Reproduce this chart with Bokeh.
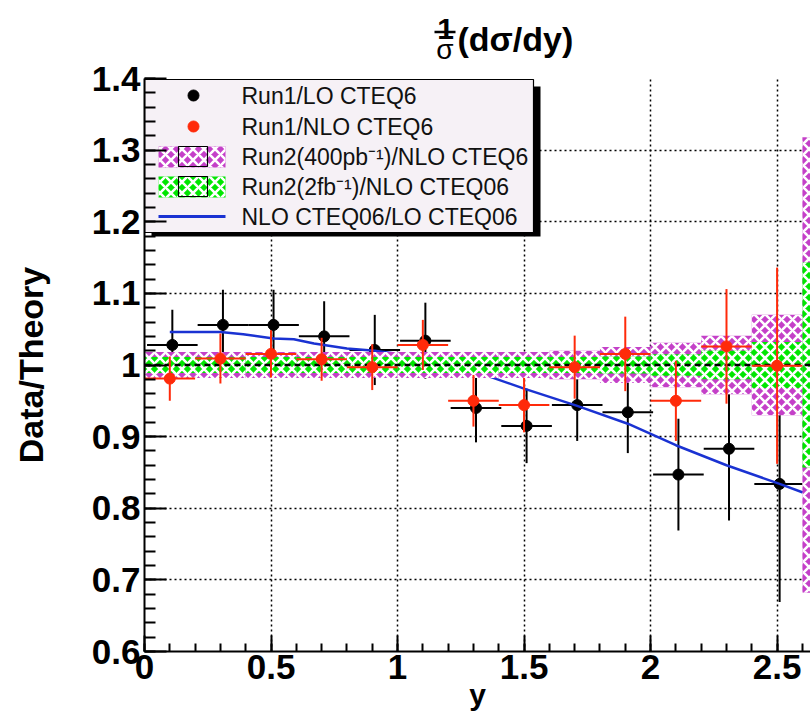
import numpy as np
from bokeh.plotting import figure
from bokeh.layouts import column
from bokeh.models import FixedTicker, Range1d
from bokeh.core.properties import value
from bokeh.embed import file_html
from bokeh.resources import INLINE

# ---------------- data ----------------
# Run1 / LO CTEQ6 (black)
lo_x = [0.11, 0.31, 0.51, 0.71, 0.91, 1.11, 1.31, 1.51, 1.71, 1.91, 2.11, 2.31, 2.51]
lo_y = [1.028, 1.056, 1.056, 1.040, 1.021, 1.034, 0.940, 0.915, 0.944, 0.934, 0.847, 0.883, 0.834]
lo_err = [0.049, 0.049, 0.049, 0.049, 0.049, 0.053, 0.048, 0.052, 0.050, 0.057, 0.078, 0.100, 0.165]
lo_xerr = [0.1] * 13

# Run1 / NLO CTEQ6 (red)
nlo_x = [0.1, 0.3, 0.5, 0.7, 0.9, 1.1, 1.3, 1.5, 1.7, 1.9, 2.1, 2.3, 2.5]
nlo_y = [0.981, 1.009, 1.0155, 1.008, 0.997, 1.028, 0.950, 0.944, 0.997, 1.0155, 0.950, 1.026, 0.999]
nlo_err = [0.031, 0.035, 0.033, 0.030, 0.032, 0.035, 0.036, 0.038, 0.044, 0.052, 0.056, 0.080, 0.137]
nlo_xerr = [0.1] * 13

# Run2 projected uncertainty bands (bin edges of 0.2)
band_left = [0.0, 0.2, 0.4, 0.6, 0.8, 1.0, 1.2, 1.4, 1.6, 1.8, 2.0, 2.2, 2.4, 2.6]
band_right = [0.2, 0.4, 0.6, 0.8, 1.0, 1.2, 1.4, 1.6, 1.8, 2.0, 2.2, 2.4, 2.6, 2.8]
band_center = [1.0] * 14
run2_400pb_err = [0.018, 0.018, 0.018, 0.018, 0.018, 0.018, 0.018, 0.018, 0.020, 0.025, 0.031, 0.041, 0.070, 0.318]
run2_2fb_err = [0.011, 0.011, 0.011, 0.011, 0.011, 0.011, 0.011, 0.011, 0.011, 0.012, 0.015, 0.020, 0.032, 0.143]

# NLO CTEQ06 / LO CTEQ06 ratio (blue)
ratio_x = [0.1, 0.3, 0.39, 0.51, 0.59, 0.67, 0.80, 0.91, 1.01, 1.10, 1.25, 1.33, 1.50, 1.71, 1.91, 2.10, 2.30, 2.51, 2.61]
ratio_y = [1.046, 1.046, 1.043, 1.037, 1.036, 1.030, 1.023, 1.020, 1.015, 1.006, 0.995, 0.988, 0.967, 0.943, 0.918, 0.888, 0.860, 0.834, 0.821]

reference_level = 1.0

x_ticks = [0.0, 0.5, 1.0, 1.5, 2.0, 2.5]
x_tick_labels = ["0", "0.5", "1", "1.5", "2", "2.5"]
y_ticks = [0.6, 0.7, 0.8, 0.9, 1.0, 1.1, 1.2, 1.3, 1.4]
y_tick_labels = ["0.6", "0.7", "0.8", "0.9", "1", "1.1", "1.2", "1.3", "1.4"]

legend_labels = ["Run1/LO CTEQ6", "Run1/NLO CTEQ6", "Run2(400pb\u207b\u00b9)/NLO CTEQ6",
                 "Run2(2fb\u207b\u00b9)/NLO CTEQ06", "NLO CTEQ06/LO CTEQ06"]

title_num = "1"
title_den = "\u03c3"
title_rest = "(d\u03c3/dy)"
x_title = "y"
y_title = "Data/Theory"

# ---------------- styling / layout ----------------
FONT = "Liberation Sans"
BLACK = "#000000"
RED = "#ff2a0a"
BLUE = "#1a32d2"
MAGENTA = "#c440c8"
GREEN = "#00e600"
HATCH = dict(hatch_pattern="diagonal_cross", hatch_color="white", hatch_scale=11, hatch_weight=2.6)

PAGE_W = 810
TITLE_H = 66
MAIN_H = 724 - TITLE_H
ML, MR, MT, MB = 144, 0, 12, 73
FRAME_W = PAGE_W - ML - MR
FRAME_H = MAIN_H - MT - MB
X0, X1 = 0.0, 2.632
Y0, Y1 = 0.6, 1.4
FRAME_LEFT = ML               # page px
FRAME_TOP = TITLE_H + MT      # page px
TITLE_SHIFT = -10             # compensates the strip's own vertical offset


def dx(px):
    return X0 + (px - FRAME_LEFT) / FRAME_W * (X1 - X0)


def dy(py):
    return Y1 - (py - FRAME_TOP) / FRAME_H * (Y1 - Y0)


def ty(py):
    return py + TITLE_SHIFT


# ---------------- title strip (data units = page pixels) ----------------
t = figure(title=None, width=PAGE_W, height=TITLE_H, x_range=Range1d(ML, PAGE_W),
           y_range=Range1d(TITLE_H, 0),
           min_border_left=ML, min_border_right=0, min_border_top=0, min_border_bottom=0,
           toolbar_location=None, output_backend="svg", x_axis_location=None, y_axis_location=None)
t.outline_line_color = None
t.xgrid.visible = False
t.ygrid.visible = False
t.text(x=[445], y=[ty(38)], text=[title_num], text_font=value(FONT), text_font_style="bold",
       text_font_size="30px", text_align="center", text_baseline="alphabetic", text_color=BLACK)
t.segment(x0=[434], x1=[455], y0=[ty(41.5)], y1=[ty(41.5)], line_color=BLACK, line_width=2.5)
t.text(x=[444.5], y=[ty(59)], text=[title_den], text_font=value(FONT),
       text_font_size="28px", text_align="center", text_baseline="alphabetic", text_color=BLACK)
t.text(x=[457], y=[ty(48)], text=[title_rest], text_font=value(FONT), text_font_style="bold",
       text_font_size="34px", text_align="left", text_baseline="alphabetic", text_color=BLACK)

# ---------------- main plot ----------------
p = figure(title=None, width=PAGE_W, height=MAIN_H, x_range=Range1d(X0, X1), y_range=Range1d(Y0, Y1),
           min_border_left=ML, min_border_right=MR, min_border_top=MT, min_border_bottom=MB,
           toolbar_location=None, output_backend="svg")
p.outline_line_color = None

x_minor = [round(v, 2) for v in np.arange(0.0, 2.65, 0.1)]
y_minor = [round(v, 2) for v in np.arange(0.6, 1.401, 0.02)]
p.xaxis.ticker = FixedTicker(ticks=x_ticks, minor_ticks=x_minor)
p.yaxis.ticker = FixedTicker(ticks=y_ticks, minor_ticks=y_minor)
p.xaxis.major_label_overrides = dict(zip(x_ticks, x_tick_labels))
p.yaxis.major_label_overrides = dict(zip(y_ticks, y_tick_labels))
for ax in (p.xaxis, p.yaxis):
    ax.axis_line_width = 2
    ax.axis_line_color = BLACK
    ax.major_tick_line_width = 2
    ax.minor_tick_line_width = 2
    ax.major_tick_line_color = BLACK
    ax.minor_tick_line_color = BLACK
    ax.major_tick_out = 0
    ax.minor_tick_out = 0
    ax.major_label_text_font = FONT
    ax.major_label_text_font_style = "bold"
    ax.major_label_text_font_size = "35px"
    ax.major_label_text_color = BLACK
    ax.axis_label_text_font = FONT
    ax.axis_label_text_font_style = "bold"
    ax.axis_label_text_color = BLACK
p.xaxis.major_tick_in = 16
p.xaxis.minor_tick_in = 8
p.yaxis.major_tick_in = 22
p.yaxis.minor_tick_in = 11
p.xaxis.major_label_standoff = 3
p.yaxis.major_label_standoff = 4
p.xaxis.axis_label = x_title
p.xaxis.axis_label_text_font_size = "30px"
p.xaxis.axis_label_standoff = -4
p.yaxis.axis_label = y_title
p.yaxis.axis_label_text_font_size = "34px"
p.yaxis.axis_label_standoff = 39

p.xgrid.ticker = FixedTicker(ticks=[v for v in x_ticks if v > 0])
p.ygrid.ticker = FixedTicker(ticks=[v for v in y_ticks if Y0 < v < Y1])
for g in (p.xgrid, p.ygrid):
    g.grid_line_color = BLACK
    g.grid_line_width = 1.5
    g.grid_line_dash = "2 3"

# black points: Run1/LO
p.segment(x0=lo_x, x1=lo_x, y0=[y - e for y, e in zip(lo_y, lo_err)],
          y1=[y + e for y, e in zip(lo_y, lo_err)], line_color=BLACK, line_width=2)
p.segment(x0=[x - e for x, e in zip(lo_x, lo_xerr)], x1=[x + e for x, e in zip(lo_x, lo_xerr)],
          y0=lo_y, y1=lo_y, line_color=BLACK, line_width=2)
p.scatter(lo_x, lo_y, size=11, color=BLACK)

# blue ratio
p.line(ratio_x, ratio_y, line_color=BLUE, line_width=2.5)

# bands
p.quad(left=band_left, right=band_right,
       top=[c + e for c, e in zip(band_center, run2_400pb_err)],
       bottom=[c - e for c, e in zip(band_center, run2_400pb_err)],
       fill_color=MAGENTA, line_color=None, **HATCH)
p.quad(left=band_left, right=band_right,
       top=[c + e for c, e in zip(band_center, run2_2fb_err)],
       bottom=[c - e for c, e in zip(band_center, run2_2fb_err)],
       fill_color=GREEN, line_color=None, **HATCH)

# reference line at 1
p.line([X0, X1], [reference_level, reference_level], line_color=BLACK, line_width=2.5, line_dash="6 4")

# red points: Run1/NLO
p.segment(x0=nlo_x, x1=nlo_x, y0=[y - e for y, e in zip(nlo_y, nlo_err)],
          y1=[y + e for y, e in zip(nlo_y, nlo_err)], line_color=RED, line_width=2)
p.segment(x0=[x - e for x, e in zip(nlo_x, nlo_xerr)], x1=[x + e for x, e in zip(nlo_x, nlo_xerr)],
          y0=nlo_y, y1=nlo_y, line_color=RED, line_width=2)
p.scatter(nlo_x, nlo_y, size=11, color=RED)

# ---------------- legend (hand-drawn, ROOT style) ----------------
p.quad(left=dx(151), right=dx(540), top=dy(86), bottom=dy(236), fill_color=BLACK, line_color=None)
p.quad(left=dx(144), right=dx(533), top=dy(79), bottom=dy(232), fill_color="#f6f1f6",
       line_color=BLACK, line_width=1.2)
rows = [95, 126, 156, 186, 216]
p.scatter([dx(193)], [dy(rows[0])], size=11, color=BLACK)
p.scatter([dx(193)], [dy(rows[1])], size=11, color=RED)
for r, col in ((rows[2], MAGENTA), (rows[3], GREEN)):
    p.quad(left=dx(158), right=dx(225), top=dy(r - 10), bottom=dy(r + 11), fill_color=col,
           line_color=None, **HATCH)
    p.quad(left=dx(178), right=dx(207), top=dy(r - 10), bottom=dy(r + 10), fill_color=None,
           line_color=BLACK, line_width=1.2)
p.line([dx(158), dx(225)], [dy(rows[4]), dy(rows[4])], line_color=BLUE, line_width=3)
p.text(x=[dx(241)] * 5, y=[dy(r) for r in rows], text=legend_labels,
       text_font=value(FONT), text_font_size="23px", text_baseline="middle",
       text_align="left", text_color="#111111")

layout = column(t, p, spacing=0)
open("out.html", "w").write(file_html(layout, INLINE))
